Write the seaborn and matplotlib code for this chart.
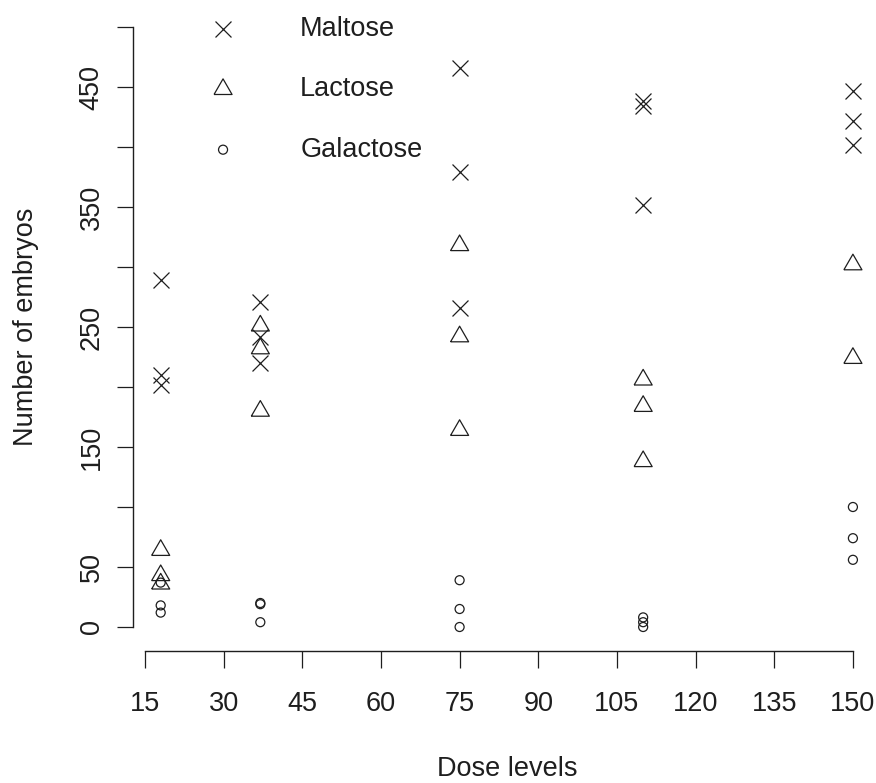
import matplotlib
matplotlib.use("Agg")
import matplotlib.pyplot as plt
import seaborn as sns
import pandas as pd

# number of embryos per dose level
maltose_dose = [18, 18, 18, 37, 37, 37, 75, 75, 75, 110, 110, 110, 150, 150, 150]
maltose = [289, 210, 202, 271, 242, 220, 466, 379, 266, 438, 434, 352, 447, 422, 402]

lactose_dose = [18, 18, 18, 37, 37, 37, 75, 75, 75, 110, 110, 110, 150, 150]
lactose = [64, 43, 36, 251, 232, 180, 318, 242, 164, 206, 184, 138, 302, 224]

galactose_dose = [18, 18, 18, 37, 37, 37, 75, 75, 75, 110, 110, 110, 150, 150, 150]
galactose = [37, 18, 12, 20, 19, 4, 39, 15, 0, 8, 4, 0, 100, 74, 56]

sugars = ["Maltose", "Lactose", "Galactose"]
x_ticks = [15, 30, 45, 60, 75, 90, 105, 120, 135, 150]
y_ticks = [0, 50, 100, 150, 200, 250, 300, 350, 400, 450, 500]
y_tick_labels = ["0", "50", "", "150", "", "250", "", "350", "", "450", ""]

df = pd.concat([
    pd.DataFrame({"dose": maltose_dose, "embryos": maltose, "sugar": "Maltose"}),
    pd.DataFrame({"dose": lactose_dose, "embryos": lactose, "sugar": "Lactose"}),
    pd.DataFrame({"dose": galactose_dose, "embryos": galactose, "sugar": "Galactose"}),
])

sns.set_style("ticks")
plt.rcParams["font.family"] = ["Liberation Sans", "DejaVu Sans"]
ink = "#1e1e1e"
fs = 19.5

fig = plt.figure(figsize=(8.76, 7.83), dpi=100)
ax = fig.add_axes([133 / 876, 132 / 783, 747.6 / 876, 648 / 783])

triangle = [(-1, -0.577), (1, -0.577), (0, 1.155), (-1, -0.577)]
styles = {
    "Maltose": dict(marker="x", s=132, color=ink, linewidth=0.9),
    "Lactose": dict(marker=triangle, s=225, facecolor="none", edgecolor=ink, linewidth=0.9),
    "Galactose": dict(marker="o", s=42, facecolor="none", edgecolor=ink, linewidth=0.9),
}
for sugar in sugars:
    sns.scatterplot(data=df[df["sugar"] == sugar], x="dose", y="embryos",
                    ax=ax, legend=False, label=sugar, **styles[sugar])

ax.set_xlim(12.72, 155.28)
ax.set_ylim(-20, 520)
sns.despine(ax=ax)
ax.spines["left"].set_bounds(0, 500)
ax.spines["bottom"].set_bounds(15, 150)
for sp in ["left", "bottom"]:
    ax.spines[sp].set_linewidth(1.0)
    ax.spines[sp].set_color(ink)

ax.set_xticks(x_ticks)
ax.set_xticklabels([str(t) for t in x_ticks])
ax.set_yticks(y_ticks)
ax.set_yticklabels(y_tick_labels)
ax.tick_params(axis="x", length=12, width=0.9, color=ink, labelsize=fs, labelcolor=ink, pad=17)
ax.tick_params(axis="y", length=11.5, width=0.9, color=ink, labelsize=fs, labelcolor=ink, pad=9)
plt.setp(ax.get_yticklabels(), rotation=90, va="center")

ax.set_xlabel("Dose levels", fontsize=fs, color=ink)
ax.set_ylabel("Number of embryos", fontsize=fs, color=ink)
ax.xaxis.set_label_coords(0.5, -0.162)
ax.yaxis.set_label_coords(-0.1257, 0.5)

ax.legend(loc="upper left", bbox_to_anchor=(209.5 / 876, 1 - 16 / 783),
          bbox_transform=fig.transFigure, frameon=False, fontsize=fs,
          borderpad=0, borderaxespad=0, handlelength=1.0, handletextpad=2.35,
          labelspacing=1.27, labelcolor=ink)

fig.savefig("out.png", dpi=100)
